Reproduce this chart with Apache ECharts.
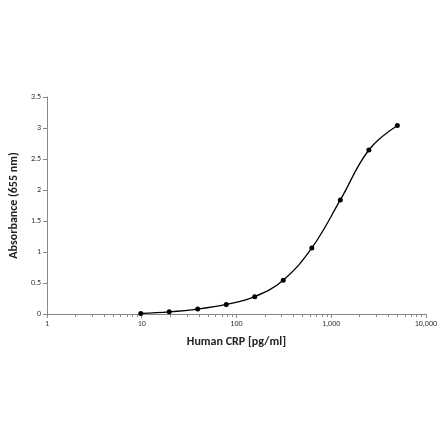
<!DOCTYPE html>
<html>
<head>
<meta charset="utf-8">
<script src="https://cdn.jsdelivr.net/npm/echarts@6/dist/echarts.min.js"></script>
<style>html,body{margin:0;background:#fff}#c{width:440px;height:441px}</style>
</head>
<body>
<div id="c"></div>
<script>
const conc = [9.77, 19.5, 39, 78, 156, 312, 625, 1250, 2500, 5000];
const absorbance = [0.01, 0.035, 0.08, 0.155, 0.28, 0.545, 1.065, 1.84, 2.645, 3.04];

const chart = echarts.init(document.getElementById("c"), null, { renderer: "canvas" });
const font = "Calibri, Carlito, 'Liberation Sans', sans-serif";
chart.setOption({
  animation: false,
  grid: { left: 42, right: 13, top: 97, bottom: 127 },
  xAxis: {
    type: "log", min: 1, max: 10000, logBase: 10,
    name: "Human CRP [pg/ml]", nameLocation: "middle", nameGap: 22,
    nameTextStyle: { fontSize: 12, fontWeight: "bold", color: "#222", fontFamily: font },
    axisLine: { lineStyle: { color: "#888" } },
    axisTick: { show: true, length: 4, lineStyle: { color: "#888" } },
    minorTick: { show: true, splitNumber: 9, length: 3, lineStyle: { color: "#888" } },
    splitLine: { show: false },
    axisLabel: { fontSize: 8, color: "#333", fontFamily: font, margin: 6 },
  },
  yAxis: {
    type: "value", min: 0, max: 3.5, interval: 0.5,
    name: "Absorbance (655 nm)", nameLocation: "middle", nameGap: 26,
    nameTextStyle: { fontSize: 12, fontWeight: "bold", color: "#222", fontFamily: font },
    axisLine: { show: true, lineStyle: { color: "#888" } },
    axisTick: { show: true, length: 4, lineStyle: { color: "#888" } },
    splitLine: { show: false },
    axisLabel: { fontSize: 8, color: "#333", fontFamily: font, margin: 6 },
  },
  series: [{
    type: "line",
    data: conc.map((c, i) => [c, absorbance[i]]),
    smooth: 0.4,
    symbol: "circle", symbolSize: 5,
    itemStyle: { color: "#000" },
    lineStyle: { color: "#000", width: 1.3 },
  }],
});
</script>
</body>
</html>
